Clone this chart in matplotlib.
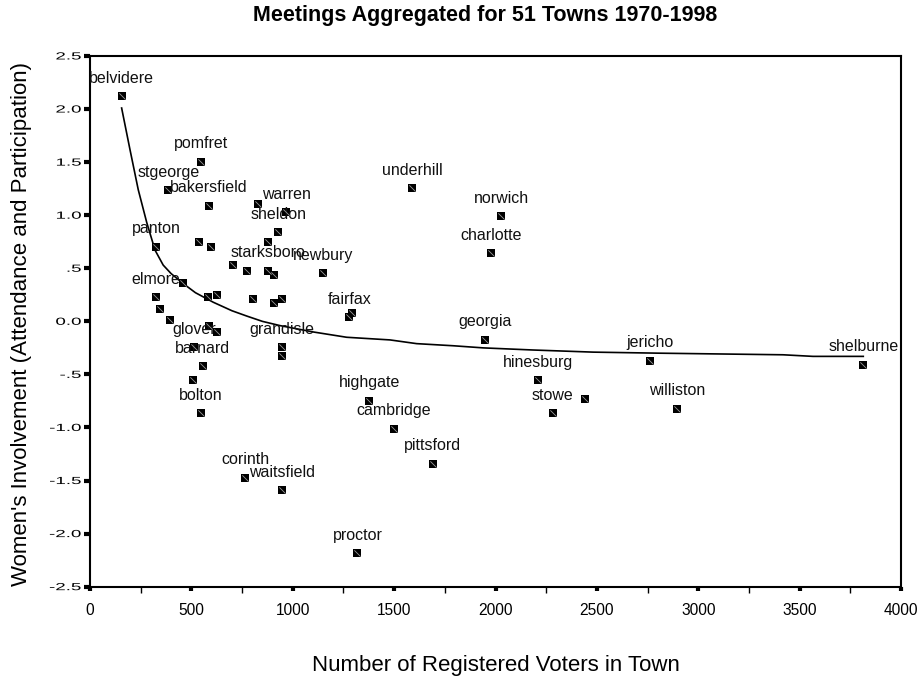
import matplotlib
matplotlib.use('Agg')
import matplotlib.pyplot as plt
from matplotlib import patheffects
from matplotlib.path import Path
from matplotlib.transforms import Affine2D

plt.rcParams['font.family'] = ['Liberation Sans', 'DejaVu Sans']

# 各镇数据
towns = ['belvidere', 'pomfret', 'stgeorge', 'bakersfield', '', 'warren', 'sheldon', '',
         'panton', '', '', '', '', 'starksboro', '', 'newbury', '', 'elmore', '', '', '',
         '', '', '', 'fairfax', '', '', '', '', 'grandisle', '', 'glover', 'barnard', '',
         'bolton', 'highgate', 'cambridge', 'corinth', 'waitsfield', 'proctor', 'underhill',
         'norwich', 'charlotte', 'georgia', 'hinesburg', '', 'stowe', 'pittsford', 'jericho',
         'shelburne', 'williston']
voters = [156, 546, 386, 587, 827, 967, 929, 876, 325, 536, 595, 707, 776, 876, 908,
          1148, 457, 325, 584, 625, 806, 908, 947, 1290, 1279, 345, 395, 585, 625, 947,
          947, 515, 556, 506, 546, 1378, 1498, 766, 947, 1319, 1590, 2029, 1979, 1950,
          2210, 2441, 2282, 1690, 2762, 3814, 2894]
involvement = [2.12, 1.505, 1.238, 1.09, 1.106, 1.031, 0.84, 0.746, 0.704, 0.746, 0.704,
               0.532, 0.478, 0.478, 0.438, 0.457, 0.36, 0.228, 0.228, 0.247, 0.209, 0.171,
               0.209, 0.077, 0.04, 0.115, 0.014, -0.04, -0.096, -0.246, -0.325, -0.246,
               -0.422, -0.554, -0.862, -0.746, -1.012, -1.474, -1.59, -2.183, 1.257, 0.99,
               0.645, -0.174, -0.557, -0.73, -0.862, -1.342, -0.369, -0.407, -0.824]

# 拟合曲线
fit_x = [156, 197, 238, 280, 321, 361, 400, 457, 520, 608, 700, 773, 850, 937, 1101,
         1266, 1480, 1611, 1792, 1940, 2186, 2482, 2811, 3418, 3566, 3814]
fit_y = [2.01, 1.62, 1.24, 0.93, 0.67, 0.53, 0.45, 0.36, 0.27, 0.18, 0.10, 0.05, 0.0,
         -0.04, -0.10, -0.15, -0.175, -0.21, -0.23, -0.25, -0.27, -0.29, -0.30, -0.315,
         -0.33, -0.33]

xticks = [0, 500, 1000, 1500, 2000, 2500, 3000, 3500, 4000]
yticks = [2.5, 2.0, 1.5, 1.0, 0.5, 0.0, -0.5, -1.0, -1.5, -2.0, -2.5]
ytick_labels = ['2.5', '2.0', '1.5', '1.0', '.5', '0.0', '-.5', '-1.0', '-1.5', '-2.0', '-2.5']


# 把文字在竖直方向压扁 (原图的纵轴刻度字是扁的)
class Squash(patheffects.AbstractPathEffect):
    def __init__(self, sy):
        super().__init__()
        self.sy = sy

    def draw_path(self, renderer, gc, tpath, affine, rgbFace=None):
        t = Affine2D().translate(0, -36).scale(1, self.sy).translate(0, 36)
        renderer.draw_path(gc, tpath, t + affine, rgbFace)


fig = plt.figure(figsize=(9.23, 6.82), dpi=100)
ax = fig.add_axes([90 / 923, 95.3 / 682, 811 / 923, 530.7 / 682])

ax.plot(fit_x, fit_y, color='black', lw=1.2, zorder=2)
ax.plot(voters, involvement, 's', color='black', ms=5.8, mew=0, zorder=3)
ax.plot(voters, involvement, ls='none', marker=Path([(-1, 1), (1, -1)]),
        mfc='none', mec='#9a9a9a', mew=0.6, ms=4.5, zorder=4)

for name, x, y in zip(towns, voters, involvement):
    if name:
        ax.annotate(name, (x, y), xytext=(0, 9.6), textcoords='offset points',
                    ha='center', va='baseline', fontsize=11.5, color='#111111')

ax.set_xlim(0, 4000)
ax.set_ylim(-2.5, 2.5)
ax.set_xticks(xticks)
ax.set_xticks(range(250, 4000, 500), minor=True)
ax.set_yticks(yticks)
ax.set_yticklabels(ytick_labels)

ax.tick_params(axis='x', which='major', direction='out', length=3, width=3,
               pad=8.5, labelsize=11.2)
ax.tick_params(axis='x', which='minor', direction='out', length=4.5, width=1)
ax.tick_params(axis='y', which='major', direction='out', length=4, width=3,
               pad=2, labelsize=13.5)
for lab in ax.get_yticklabels():
    lab.set_path_effects([Squash(0.55)])

for s in ax.spines.values():
    s.set_linewidth(1.5)

fig.text(485 / 923, 1 - 16 / 682, 'Meetings Aggregated for 51 Towns 1970-1998',
         ha='center', va='center', fontsize=15.5, fontweight='bold')
fig.text(496 / 923, 1 - 666 / 682, 'Number of Registered Voters in Town',
         ha='center', va='center', fontsize=16)
fig.text(22 / 923, 1 - 324 / 682, "Women's Involvement (Attendance and Participation)",
         ha='center', va='center', rotation=90, fontsize=16)

fig.savefig('out.png', dpi=100)
